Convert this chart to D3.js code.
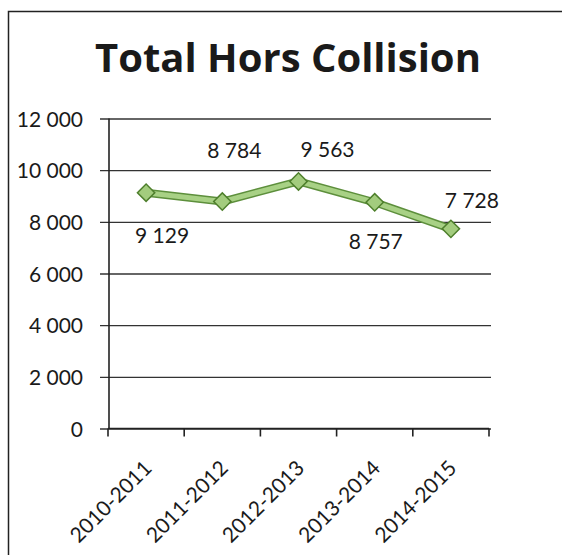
<!DOCTYPE html>
<html>
<head>
<meta charset="utf-8">
<script src="https://cdn.jsdelivr.net/npm/d3@7"></script>
<style>
  body { margin: 0; background: #fff; }
  text { font-family: Lato, "Open Sans", sans-serif; fill: #1a1a1a; }
</style>
</head>
<body>
<svg id="chart" width="564" height="555"></svg>
<script>
// data
var seasons = ["2010-2011", "2011-2012", "2012-2013", "2013-2014", "2014-2015"];
var totals = [9129, 8784, 9563, 8757, 7728];
var yTicks = [0, 2000, 4000, 6000, 8000, 10000, 12000];
// label placement around each point (dx, dy in px)
var labelOffsets = [[16, 50], [12, -44], [29, -24], [1, 47], [21, -21]];

var svg = d3.select("#chart");
var fmt = d3.formatLocale({decimal: ",", thousands: " ", grouping: [3], currency: ["", ""]}).format(",d");

var margin = {left: 108, right: 489, top: 118.5, bottom: 428.5};

var x = d3.scaleBand().domain(seasons).range([margin.left, margin.right]);
var y = d3.scaleLinear().domain([0, 12000]).range([margin.bottom, margin.top]);

// outer frame (left + top edges only)
svg.append("path")
    .attr("d", "M8.5,555 L8.5,11.5 L562,11.5")
    .attr("fill", "none")
    .attr("stroke", "#222")
    .attr("stroke-width", 1.5);

// title
svg.append("text")
    .attr("x", 288)
    .attr("y", 72)
    .attr("text-anchor", "middle")
    .style("font-family", "'Open Sans', Lato, sans-serif")
    .style("font-size", "40px")
    .style("font-weight", "bold")
    .text("Total Hors Collision");

// gridlines + y labels
var yAxis = d3.axisLeft(y)
    .tickValues(yTicks)
    .tickSize(-(margin.right + 2 - margin.left))
    .tickPadding(25)
    .tickFormat(fmt);

var gy = svg.append("g")
    .attr("transform", "translate(" + margin.left + ",0)")
    .call(yAxis);
gy.select(".domain").remove();
gy.selectAll(".tick line")
    .attr("x1", -8)
    .attr("stroke", "#333")
    .attr("stroke-width", 1.3);
gy.selectAll(".tick text")
    .style("font-size", "21px")
    .attr("dy", "0.36em");

// y axis line
svg.append("line")
    .attr("x1", margin.left + 1).attr("x2", margin.left + 1)
    .attr("y1", margin.top).attr("y2", margin.bottom)
    .attr("stroke", "#222")
    .attr("stroke-width", 1.6);

// x axis, labels rotated
var xAxis = d3.axisBottom(x)
    .tickSize(0)
    .tickPadding(0);
var gx = svg.append("g")
    .attr("transform", "translate(0," + margin.bottom + ")")
    .call(xAxis);
gx.select(".domain").remove();
gx.selectAll(".tick text")
    .attr("text-anchor", "end")
    .attr("transform", "translate(7,41) rotate(-45)")
    .attr("dy", 0)
    .attr("y", 0)
    .style("font-size", "21px");

svg.append("line")
    .attr("x1", margin.left).attr("x2", margin.right)
    .attr("y1", margin.bottom).attr("y2", margin.bottom)
    .attr("stroke", "#222")
    .attr("stroke-width", 1.4);

// ticks between categories
var boundaries = seasons.map(function(s) { return x(s); }).concat([margin.right]);
svg.selectAll(".xtick")
    .data(boundaries)
    .enter().append("line")
    .attr("class", "xtick")
    .attr("x1", function(d) { return d; })
    .attr("x2", function(d) { return d; })
    .attr("y1", margin.bottom)
    .attr("y2", margin.bottom + 8)
    .attr("stroke", "#222")
    .attr("stroke-width", 1.6);

// series
var pts = seasons.map(function(s, i) { return [x(s) + x.bandwidth() / 2, y(totals[i])]; });
var line = d3.line();

svg.append("path")
    .attr("d", line(pts))
    .attr("fill", "none")
    .attr("stroke", "#5d8f3c")
    .attr("stroke-width", 8)
    .attr("stroke-linejoin", "round");
svg.append("path")
    .attr("d", line(pts))
    .attr("fill", "none")
    .attr("stroke", "#a8d185")
    .attr("stroke-width", 5)
    .attr("stroke-linejoin", "round");

svg.selectAll(".marker")
    .data(pts)
    .enter().append("path")
    .attr("class", "marker")
    .attr("d", d3.symbol().type(d3.symbolSquare).size(150))
    .attr("transform", function(d) { return "translate(" + d[0] + "," + d[1] + ") rotate(45)"; })
    .attr("fill", "#a3cc7e")
    .attr("stroke", "#4e7f2c")
    .attr("stroke-width", 1.5);

// value labels
svg.selectAll(".vlabel")
    .data(totals)
    .enter().append("text")
    .attr("class", "vlabel")
    .attr("x", function(d, i) { return pts[i][0] + labelOffsets[i][0]; })
    .attr("y", function(d, i) { return pts[i][1] + labelOffsets[i][1]; })
    .attr("text-anchor", "middle")
    .style("font-size", "21px")
    .text(function(d) { return fmt(d); });
</script>
</body>
</html>
